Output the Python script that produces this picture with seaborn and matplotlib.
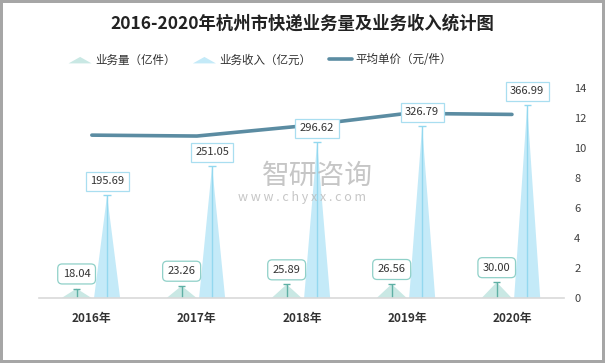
import matplotlib
matplotlib.use('Agg')
import matplotlib.pyplot as plt
from matplotlib.patches import Polygon
from matplotlib.lines import Line2D
from matplotlib.legend_handler import HandlerBase
import seaborn as sns
import numpy as np

# 데이터
years = ['2016年', '2017年', '2018年', '2019年', '2020年']
volume = [18.04, 23.26, 25.89, 26.56, 30.00]        # 业务量（亿件）
revenue = [195.69, 251.05, 296.62, 326.79, 366.99]  # 业务收入（亿元）
price = [10.85, 10.79, 11.46, 12.30, 12.23]         # 平均单价（元/件）

# 색상
vol_fill, vol_line, vol_edge = '#c9e8e4', '#5fb0a5', '#8fd0c8'
rev_fill, rev_line, rev_edge = '#c4eaf8', '#93d8ef', '#a9def0'
price_color = '#5b8ca2'

sns.set_theme(style='white')
plt.rcParams['font.family'] = ['Noto Sans CJK SC', 'DejaVu Sans']


class TriHandler(HandlerBase):
    def create_artists(self, legend, orig_handle, xdescent, ydescent,
                       width, height, fontsize, trans):
        x0, y0 = -xdescent, -ydescent
        tri = Polygon([[x0, y0], [x0 + width, y0], [x0 + width / 2, y0 + height * 0.8]],
                      closed=True, facecolor=orig_handle.get_facecolor(),
                      edgecolor='none', transform=trans)
        return [tri]


fig = plt.figure(figsize=(6.05, 3.63), dpi=100, edgecolor='#a6a6a6', linewidth=3)
ax = fig.add_axes([0.065, 0.179, 0.868, 0.579])
ax2 = ax.twinx()

x = np.arange(len(years))
off, hw_vol, hw_rev = 0.145, 0.143, 0.124

# 1. 삼각형 막대
for i in range(len(years)):
    xv, xr = x[i] - off, x[i] + off
    ax.fill([xv - hw_vol, xv, xv + hw_vol], [0, volume[i], 0], color=vol_fill, lw=0)
    ax.vlines(xv, 0, volume[i], color=vol_line, lw=1)
    ax.hlines(volume[i], xv - 0.035, xv + 0.035, color=vol_line, lw=1)

    ax.fill([xr - hw_rev, xr, xr + hw_rev], [0, revenue[i], 0], color=rev_fill, lw=0)
    ax.vlines(xr, 0, revenue[i], color=rev_line, lw=1)
    ax.hlines(revenue[i], xr - 0.035, xr + 0.035, color=rev_line, lw=1)

# 2. 평균단가 선
sns.lineplot(x=x, y=price, ax=ax2, color=price_color, linewidth=2.6, legend=False)

# 3. 라벨 (선 위에 보이도록 ax2에 그림)
for i in range(len(years)):
    ax2.annotate(f'{volume[i]:.2f}', (x[i] - off, volume[i]), xycoords=ax.transData,
                 xytext=(0, 10.5), textcoords='offset points', ha='center', va='center',
                 fontsize=8, color='#333333', zorder=5,
                 bbox=dict(boxstyle='round,pad=0.45,rounding_size=0.4', facecolor='white',
                           edgecolor=vol_edge, lw=0.9))
    ax2.annotate(f'{revenue[i]:.2f}', (x[i] + off, revenue[i]), xycoords=ax.transData,
                 xytext=(0, 10), textcoords='offset points', ha='center', va='center',
                 fontsize=8, color='#333333', zorder=5,
                 bbox=dict(boxstyle='square,pad=0.4', facecolor='white',
                           edgecolor=rev_edge, lw=0.9))

# 4. 축 꾸미기
ax.set_xlim(-0.5, len(years) - 0.5)
ax.set_ylim(0, 400)
ax.set_yticks([])
ax.set_xticks(x)
ax.set_xticklabels(years, fontsize=8.5, fontweight='bold', color='#333333')
ax.tick_params(axis='x', length=0, pad=10)
for s in ['top', 'left', 'right']:
    ax.spines[s].set_visible(False)
ax.spines['bottom'].set_color('#d9d9d9')
ax.spines['bottom'].set_linewidth(1.2)

ax2.set_ylim(0, 14)
ax2.set_yticks(range(0, 15, 2))
ax2.tick_params(axis='y', length=0, pad=7, labelsize=8, labelcolor='#404040')
ax2.set_ylabel('')
for s in ax2.spines.values():
    s.set_visible(False)
ax2.grid(False)
ax.grid(False)

# 5. 워터마크
fig.text(0.525, 0.515, '智研咨询', fontsize=20, color='#b8b8b8', alpha=0.8,
         ha='center', va='center')
fig.text(0.5, 0.457, 'w w w . c h y x x . c o m', fontsize=9, color='#b8b8b8',
         alpha=0.8, ha='center', va='center')

# 6. 제목과 범례
fig.text(0.5, 0.935, '2016-2020年杭州市快递业务量及业务收入统计图', fontsize=12.5,
         fontweight='bold', color='#222222', ha='center', va='center')

handles = [Polygon([[0, 0]], facecolor=vol_fill), Polygon([[0, 0]], facecolor=rev_fill),
           Line2D([], [], color=price_color, lw=2.6)]
labels = ['业务量（亿件）', '业务收入（亿元）', '平均单价（元/件）']
fig.legend(handles, labels, loc='center', bbox_to_anchor=(0.43, 0.835), ncol=3,
           frameon=False, fontsize=8.3, handlelength=2.0, handletextpad=0.3,
           columnspacing=1.5, labelcolor='#333333',
           handler_map={Polygon: TriHandler()})

fig.savefig('out.png', dpi=100)
